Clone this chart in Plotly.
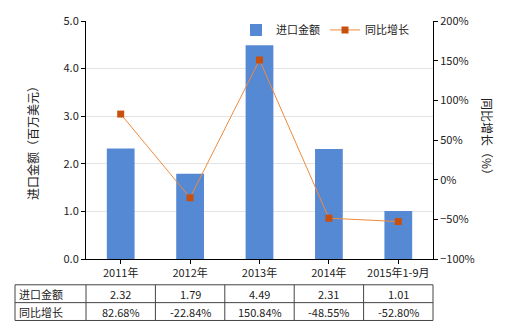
import plotly.graph_objects as go

categories = ["2011年", "2012年", "2013年", "2014年", "2015年1-9月"]
import_values = [2.32, 1.79, 4.49, 2.31, 1.01]
growth_values = [82.68, -22.84, 150.84, -48.55, -52.80]
import_labels = ["2.32", "1.79", "4.49", "2.31", "1.01"]
growth_labels = ["82.68%", "-22.84%", "150.84%", "-48.55%", "-52.80%"]
row_names = ["进口金额", "同比增长"]

FONT = "Noto Sans CJK SC"
W, H = 520, 330
L, R, T, B = 86, 433, 19, 259

fig = go.Figure()
fig.add_trace(go.Bar(x=categories, y=import_values, name="进口金额",
                     marker=dict(color="#5589d4", line=dict(width=0)), width=0.4,
                     yaxis="y"))
fig.add_trace(go.Scatter(x=categories, y=growth_values, name="同比增长", mode="lines+markers",
                         line=dict(color="#f08a3c", width=1),
                         marker=dict(color="#c8500e", size=7, symbol="square"),
                         yaxis="y2"))

def px_x(x):
    return (x - L) / (R - L)

def px_y(y):
    return (B - y) / (B - T)

shapes = []
line_style = dict(color="#444444", width=1)
rows_y = [285, 303, 321]
cols_x = [15, 86] + [86 + (R - L) * (i + 1) / 5 for i in range(5)]
for yy in rows_y:
    shapes.append(dict(type="line", xref="paper", yref="paper", x0=px_x(15), x1=px_x(R),
                       y0=px_y(yy), y1=px_y(yy), line=line_style))
for xx in cols_x:
    shapes.append(dict(type="line", xref="paper", yref="paper", x0=px_x(xx), x1=px_x(xx),
                       y0=px_y(rows_y[0]), y1=px_y(rows_y[-1]), line=line_style))

annotations = []
tfont = dict(family=FONT, size=11, color="#222222")
for r, (name, labels) in enumerate(zip(row_names, [import_labels, growth_labels])):
    yc = px_y((rows_y[r] + rows_y[r + 1]) / 2)
    annotations.append(dict(text=name, xref="paper", yref="paper", x=px_x(17), y=yc,
                            xanchor="left", yanchor="middle", showarrow=False, font=tfont))
    for i, lab in enumerate(labels):
        xc = px_x((cols_x[i + 1] + cols_x[i + 2]) / 2)
        annotations.append(dict(text=lab, xref="paper", yref="paper", x=xc, y=yc,
                                xanchor="center", yanchor="middle", showarrow=False, font=tfont))

annotations.append(dict(text="进口金额（百万美元）", xref="paper", yref="paper", x=px_x(32), y=0.5,
                        textangle=-90, showarrow=False, xanchor="center", yanchor="middle",
                        font=dict(family=FONT, size=12, color="#222222")))
annotations.append(dict(text="同比增长（%）", xref="paper", yref="paper", x=px_x(488), y=0.5,
                        textangle=90, showarrow=False, xanchor="center", yanchor="middle",
                        font=dict(family=FONT, size=12, color="#222222")))

fig.update_layout(
    width=W, height=H,
    margin=dict(l=L, r=W - R, t=T, b=H - B, pad=0),
    paper_bgcolor="white", plot_bgcolor="white",
    font=dict(family=FONT, size=11, color="#222222"),
    showlegend=True,
    legend=dict(orientation="h", x=px_x(236), y=px_y(28), xanchor="left", yanchor="middle",
                bgcolor="rgba(0,0,0,0)", font=dict(family=FONT, size=11, color="#222222"),
                itemwidth=30, tracegroupgap=0),
    xaxis=dict(showline=True, linecolor="black", linewidth=1, ticks="outside", ticklen=4,
               tickcolor="black", showgrid=False, tickfont=dict(family=FONT, size=11)),
    yaxis=dict(range=[0, 5], dtick=1, tickformat=".1f", showline=True, linecolor="black",
               ticks="outside", ticklen=4, tickcolor="black", showgrid=True,
               gridcolor="#e3e3e3", gridwidth=1, zeroline=False),
    yaxis2=dict(range=[-100, 200], dtick=50, ticksuffix="%", overlaying="y", side="right",
                showline=True, linecolor="black", ticks="outside", ticklen=4, tickcolor="black",
                showgrid=False, zeroline=False),
    shapes=shapes,
    annotations=annotations,
    bargap=0.6,
)

fig.write_html("out.html")
